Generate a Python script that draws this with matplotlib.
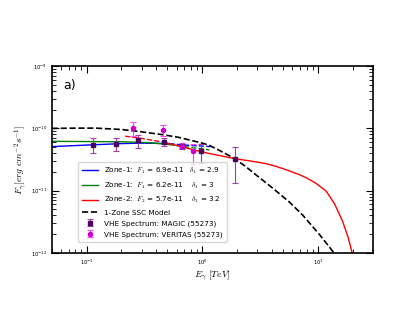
import matplotlib
matplotlib.use("Agg")
import matplotlib.pyplot as plt
import numpy as np

plt.rcParams['mathtext.fontset'] = 'cm'

# 1-zone SSC model
ssc_e = [0.05, 0.08, 0.12, 0.2, 0.3, 0.46, 0.62, 0.78, 1.0, 1.16, 1.45, 1.91, 2.4,
         2.94, 4.06, 5.7, 7.43, 10.4, 13.5, 14.5]
ssc_f = [1.0e-10, 1.01e-10, 1.01e-10, 9.6e-11, 8.8e-11, 7.9e-11, 7.2e-11, 6.5e-11,
         5.8e-11, 5.3e-11, 4.3e-11, 3.27e-11, 2.4e-11, 1.77e-11, 1.1e-11, 6.5e-12,
         4.0e-12, 1.94e-12, 1.05e-12, 8.5e-13]

# zone-1 (blue)
blue_e = [0.05, 0.1, 0.2, 0.3, 0.52]
blue_f = [5.1e-11, 5.4e-11, 5.7e-11, 5.8e-11, 5.7e-11]
blue_dash_e = [0.52, 0.7, 1.0, 1.18]
blue_dash_f = [5.7e-11, 5.4e-11, 5.2e-11, 5.1e-11]

# zone-1 (green)
green_e = [0.05, 0.2, 0.35, 0.52]
green_f = [6.2e-11, 6.1e-11, 5.9e-11, 5.5e-11]
green_dash_e = [0.52, 0.7, 1.0, 1.15]
green_dash_f = [5.5e-11, 5.1e-11, 4.7e-11, 4.5e-11]

# zone-2 (red)
red_dash_e = [0.215, 0.3, 0.46]
red_dash_f = [7.5e-11, 6.9e-11, 6.0e-11]
red_e = [0.46, 0.66, 0.85, 1.16, 1.91, 2.94, 3.6, 4.37, 5.7, 6.95, 8.0, 9.7, 11.8,
         13.9, 16.4, 18.2, 19.8, 20.3]
red_f = [6.0e-11, 5.1e-11, 4.5e-11, 3.94e-11, 3.27e-11, 2.89e-11, 2.7e-11, 2.45e-11,
         2.07e-11, 1.8e-11, 1.6e-11, 1.3e-11, 9.8e-12, 6.2e-12, 3.17e-12, 1.8e-12,
         1.0e-12, 8.0e-13]

# MAGIC (55273)
magic_e = [0.113, 0.18, 0.276, 0.466, 0.667, 0.98, 1.92]
magic_f = [5.4e-11, 5.6e-11, 6.4e-11, 6.1e-11, 5.27e-11, 4.34e-11, 3.27e-11]
magic_hi = [6.9e-11, 7.1e-11, 7.8e-11, 7.0e-11, 5.7e-11, 5.7e-11, 5.07e-11]
magic_lo = [4.07e-11, 4.4e-11, 4.8e-11, 5.3e-11, 4.6e-11, 2.8e-11, 1.32e-11]

# VERITAS (55273)
veritas_e = [0.253, 0.454, 0.667, 0.824]
veritas_f = [1.01e-10, 9.3e-11, 5.3e-11, 4.26e-11]
veritas_hi = [1.29e-10, 1.12e-10, 5.8e-11, 5.7e-11]
veritas_lo = [7.45e-11, 7.5e-11, 4.8e-11, 2.65e-11]

fig = plt.figure(figsize=(4.15, 3.21), dpi=100)
ax = fig.add_axes([0.125, 0.212, 0.774, 0.582])

ax.plot(blue_e, blue_f, color='blue', lw=1.0,
        label=r'Zone-1:  $F_1$ = 6.9e-11   $\delta_1$ = 2.9')
ax.plot(blue_dash_e, blue_dash_f, color='blue', lw=1.0, ls='--')
ax.plot(green_e, green_f, color='green', lw=1.0,
        label=r'Zone-1:  $F_1$ = 6.2e-11    $\delta_1$ = 3')
ax.plot(green_dash_e, green_dash_f, color='green', lw=1.0, ls='--')
ax.plot(red_e, red_f, color='red', lw=1.0,
        label=r'Zone-2:  $F_2$ = 5.7e-11    $\delta_2$ = 3.2')
ax.plot(red_dash_e, red_dash_f, color='red', lw=1.0, ls='--')
ax.plot(ssc_e, ssc_f, color='black', lw=1.2, ls='--', label='1-Zone SSC Model')

m_err = [np.array(magic_f) - np.array(magic_lo), np.array(magic_hi) - np.array(magic_f)]
ax.errorbar(magic_e, magic_f, yerr=m_err, fmt='s', color='#4b0060', ecolor='#a040a0',
            ms=3, capsize=2.5, elinewidth=0.8, capthick=0.8,
            label='VHE Spectrum: MAGIC (55273)')
v_err = [np.array(veritas_f) - np.array(veritas_lo), np.array(veritas_hi) - np.array(veritas_f)]
ax.errorbar(veritas_e, veritas_f, yerr=v_err, fmt='o', color='#cc00cc', ecolor='#ff44ff',
            ms=3, capsize=2.5, elinewidth=0.8, capthick=0.8,
            label='VHE Spectrum: VERITAS (55273)')

ax.set_xscale('log')
ax.set_yscale('log')
ax.set_xlim(0.05, 30)
ax.set_ylim(1e-12, 1e-9)

ax.tick_params(which='both', direction='in', top=True, right=True, labelsize=3.8)
ax.tick_params(which='major', length=5, width=0.8)
ax.tick_params(which='minor', length=3, width=0.6)
for s in ax.spines.values():
    s.set_linewidth(1.2)

ax.set_xlabel(r'$E_\gamma\ [TeV]$', fontsize=7, labelpad=1)
ax.set_ylabel(r'$F_\gamma [erg\ cm^{-2} s^{-1}]$', fontsize=7, labelpad=1)
ax.text(0.035, 0.88, 'a)', transform=ax.transAxes, fontsize=9)

ax.legend(loc='lower left', bbox_to_anchor=(0.07, 0.04), fontsize=5.2,
          handlelength=2.2, labelspacing=0.6, borderpad=0.6, framealpha=0.8)

fig.savefig('out.png', dpi=100)
